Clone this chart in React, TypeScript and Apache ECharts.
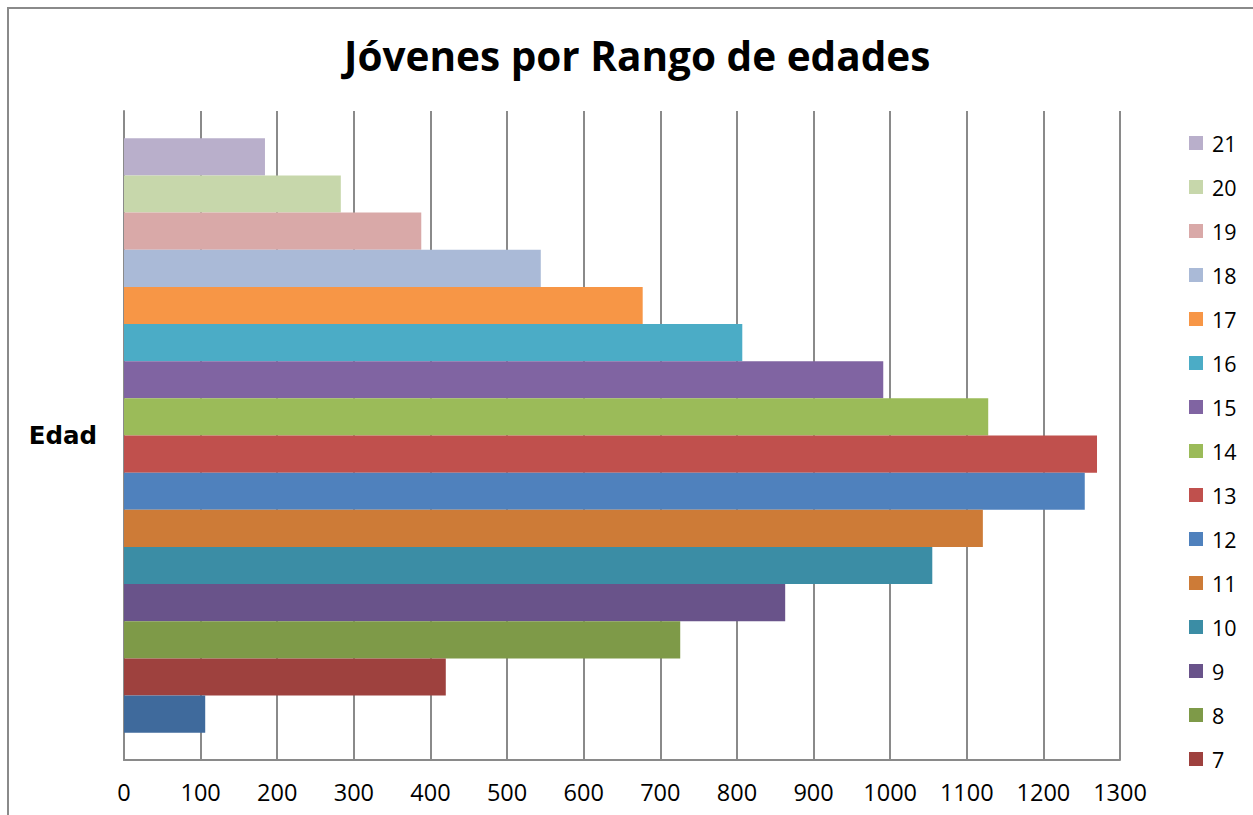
import React, { useEffect, useRef } from "react";
import * as echarts from "echarts";

const categories = ["Edad"];
const seriesNames = ["6", "7", "8", "9", "10", "11", "12", "13", "14", "15", "16", "17", "18", "19", "20", "21"];
const seriesValues = [106, 420, 726, 863, 1055, 1121, 1254, 1270, 1128, 991, 807, 677, 544, 388, 283, 184];
const seriesColors = [
  "#3F6A9C", "#9E413E", "#7E9A48", "#69538A", "#3B8DA5", "#CD7B37",
  "#4F81BD", "#C0504D", "#9BBB59", "#8064A2", "#4BACC6", "#F79646",
  "#AABAD7", "#D9A9A8", "#C7D7AB", "#B9AFCB",
];
const legendNames = ["21", "20", "19", "18", "17", "16", "15", "14", "13", "12", "11", "10", "9", "8", "7"];
const xTicks = { min: 0, max: 1300, interval: 100 };

const FONT = "'Open Sans', 'Noto Sans', sans-serif";

export default function App() {
  const ref = useRef<HTMLDivElement>(null);
  useEffect(() => {
    if (!ref.current) return;
    const chart = echarts.init(ref.current, null, { renderer: "svg" });
    const order = seriesNames.map((_, i) => i).reverse();
    chart.setOption({
      animation: false,
      backgroundColor: "#ffffff",
      textStyle: { fontFamily: FONT },
      title: {
        text: "Jóvenes por Rango de edades",
        left: 339,
        top: 30,
        textStyle: { fontFamily: FONT, fontWeight: "bold", fontSize: 40.5, color: "#000" },
      },
      graphic: [
        {
          type: "rect",
          shape: { x: 8, y: 8, width: 1400, height: 1000 },
          style: { fill: "none", stroke: "#8a8a8a", lineWidth: 2 },
          silent: true,
        },
      ],
      legend: {
        orient: "vertical",
        left: 1189,
        top: 132,
        padding: 0,
        itemWidth: 14,
        itemHeight: 14,
        itemGap: 22,
        icon: "rect",
        data: legendNames,
        textStyle: { fontFamily: FONT, fontSize: 21.5, color: "#000", lineHeight: 22, padding: [0, 0, 0, 4] },
      },
      grid: { left: 124, right: 133, top: 111, bottom: 55, containLabel: false },
      xAxis: {
        type: "value",
        min: xTicks.min,
        max: xTicks.max,
        interval: xTicks.interval,
        axisLine: { show: true, lineStyle: { color: "#8a8a8a", width: 2 } },
        axisTick: { show: false },
        axisLabel: {
          fontFamily: FONT,
          fontSize: 23.5,
          color: "#000",
          margin: 20,
          formatter: (v: number) => String(v),
        },
        splitLine: { show: true, lineStyle: { color: "#8a8a8a", width: 2 } },
      },
      yAxis: {
        type: "category",
        data: categories,
        axisLine: { show: true, lineStyle: { color: "#8a8a8a", width: 2 } },
        axisTick: { show: false },
        axisLabel: {
          fontFamily: "'DejaVu Sans', sans-serif",
          fontSize: 24.5,
          fontWeight: "bold",
          color: "#000",
          margin: 27,
        },
      },
      series: order.map((i) => ({
        name: seriesNames[i],
        type: "bar",
        data: [seriesValues[i]],
        itemStyle: { color: seriesColors[i] },
        barGap: "0%",
        barCategoryGap: "8.4%",
      })),
    });
    return () => chart.dispose();
  }, []);
  return (
    <div
      ref={ref}
      style={{ position: "fixed", left: 0, top: 0, width: 1253, height: 815 }}
    />
  );
}
